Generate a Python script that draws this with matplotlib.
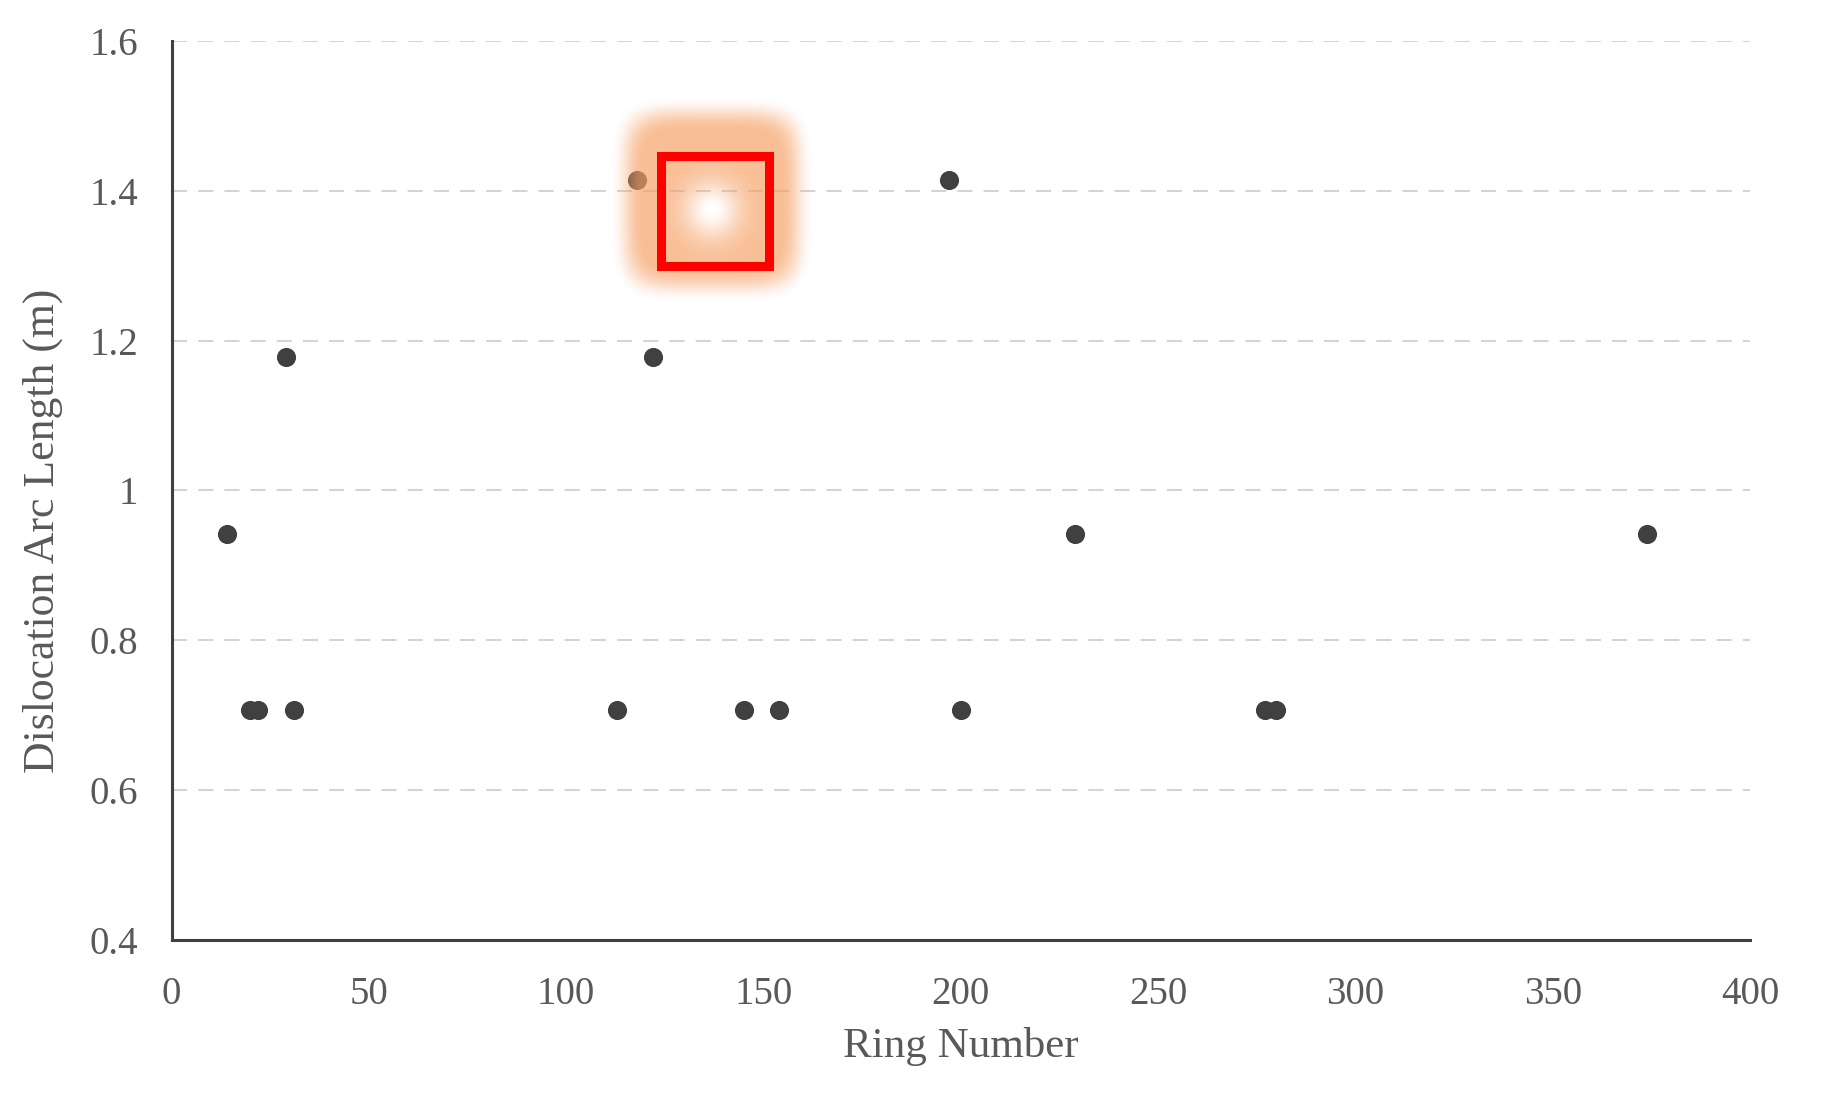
import numpy as np
import matplotlib
matplotlib.use('Agg')
import matplotlib.pyplot as plt
from matplotlib.patches import Rectangle

# ring number vs dislocation arc length
ring = [14, 20, 22, 29, 31, 113, 118, 122, 145, 154, 197, 200, 229, 277, 280, 374]
arc = [0.942, 0.707, 0.707, 1.178, 0.707, 0.707, 1.414, 1.178, 0.707, 0.707,
       1.414, 0.707, 0.942, 0.707, 0.707, 0.942]
yticks = [0.4, 0.6, 0.8, 1.0, 1.2, 1.4, 1.6]
ytick_labels = ['0.4', '0.6', '0.8', '1', '1.2', '1.4', '1.6']
xticks = [0, 50, 100, 150, 200, 250, 300, 350, 400]

plt.rcParams['font.family'] = ['Liberation Serif', 'DejaVu Serif']
txt = '#595959'
dark = '#404040'

fig = plt.figure(figsize=(18.29, 11.04), dpi=100)
ax = fig.add_axes([0.0938, 0.1486, 0.863, 0.8143])

ax.scatter(ring, arc, s=190, color=dark, zorder=3, linewidths=0)

ax.set_xlim(0, 400)
ax.set_ylim(0.4, 1.6)
ax.set_xticks(xticks)
ax.set_yticks(yticks)
ax.set_yticklabels(ytick_labels)
ax.tick_params(length=0, labelsize=28, labelcolor=txt)
ax.tick_params(axis='y', pad=24)
ax.tick_params(axis='x', pad=26)

for y in yticks[1:]:
    ax.axhline(y, color='#d4d4d4', lw=1.45, linestyle=(0, (7.5, 5.5)), zorder=1)

for s in ['top', 'right']:
    ax.spines[s].set_visible(False)
for s in ['left', 'bottom']:
    ax.spines[s].set_color(dark)
    ax.spines[s].set_linewidth(2.2)
    ax.spines[s].set_zorder(4)

ax.set_xlabel('Ring Number', fontsize=31, color=txt)
ax.set_ylabel('Dislocation Arc Length (m)', fontsize=31.5, color=txt)
ax.xaxis.set_label_coords(0.5, -0.118)
ax.xaxis.label.set_va('center')
ax.yaxis.set_label_coords(-0.0814, 0.455)
ax.yaxis.label.set_va('center')

# orange glow highlight with a red box
n = 240
u, v = np.meshgrid(np.linspace(-1, 1, n), np.linspace(-1, 1, n))
d = (np.abs(u) ** 5 + np.abs(v) ** 5) ** (1 / 5)
a = np.clip((1.0 - d) / 0.32, 0, 1)
a = a * a * (3 - 2 * a)
r2 = u ** 2 + (v + 0.1) ** 2
a = a * (1 - np.exp(-r2 / (2 * 0.19 ** 2)))
glow = np.zeros((n, n, 4))
glow[..., 0] = 246 / 255
glow[..., 1] = 160 / 255
glow[..., 2] = 100 / 255
glow[..., 3] = a * 0.68
ax.imshow(glow, extent=[111.0, 162.5, 1.25, 1.525], aspect='auto',
          interpolation='bilinear', zorder=5, origin='lower')
ax.add_patch(Rectangle((124.0, 1.299), 27.3, 0.147, fill=False,
                       edgecolor='#ff0000', lw=6.5, zorder=6))
ax.set_xlim(0, 400)
ax.set_ylim(0.4, 1.6)

fig.savefig('out.png', dpi=100, facecolor='white')
